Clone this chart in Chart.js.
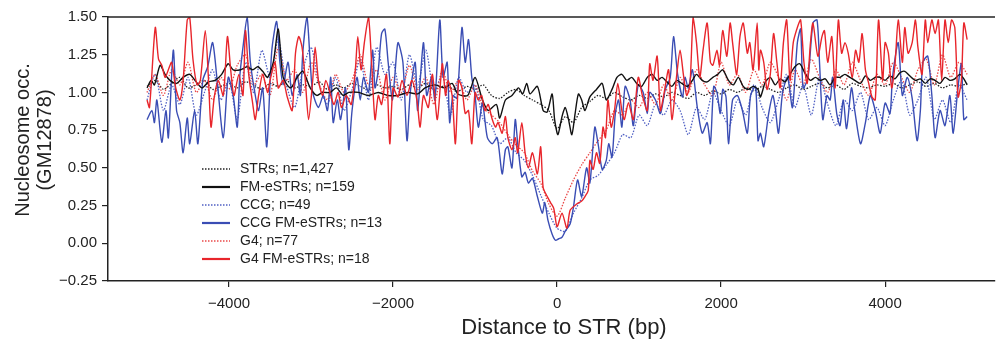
<!DOCTYPE html>
<html>
<head>
<meta charset="utf-8">
<title>Nucleosome occupancy around STRs</title>
<script src="https://cdn.jsdelivr.net/npm/chart.js"></script>
<style>
  html, body { margin: 0; padding: 0; background: #fff; }
</style>
</head>
<body>
<canvas id="chart" width="997" height="345"></canvas>
<script>
// distance to STR (bp), 100 bp grid used by the averaged (dotted) series
const gridX = Array.from({ length: 101 }, (_, i) => -5000 + 100 * i);

const xTicks = [-4000, -2000, 0, 2000, 4000];
const yTicks = [-0.25, 0, 0.25, 0.5, 0.75, 1.0, 1.25, 1.5];

const xTitle = 'Distance to STR (bp)';
const yTitle = ['Nucleosome occ.', '(GM12878)'];

// STRs; n=1,427 (black dotted)
const strsY = [
  1.04, 1.08, 1.02, 1.06, 1.10, 1.03, 1.05, 1.08, 1.02, 1.04,
  1.06, 1.03, 1.07, 1.05, 1.02, 1.06, 1.04, 1.08, 1.03, 1.05,
  1.04, 1.07, 1.02, 1.05, 1.03, 1.06, 1.04, 1.02, 1.05, 1.03,
  1.04, 1.02, 1.05, 1.03, 1.06, 1.02, 1.04, 1.03, 1.01, 1.04,
  1.02, 1.05, 0.98, 0.96, 1.00, 1.02, 0.98, 0.95, 0.92, 0.88,
  0.76, 0.84, 0.80, 0.90, 0.94, 0.98, 0.96, 1.00, 0.97, 0.95,
  0.98, 0.96, 0.99, 0.97, 1.00, 0.98, 0.96, 1.00, 0.98, 1.01,
  0.99, 1.02, 1.00, 1.03, 1.01, 1.04, 1.02, 1.00, 1.03, 1.05,
  1.02, 1.04, 1.06, 1.03, 1.05, 1.02, 1.06, 1.04, 1.03, 1.05,
  1.04, 1.06, 1.03, 1.05, 1.07, 1.04, 1.06, 1.03, 1.05, 1.04,
  1.06
];

// CCG; n=49 (blue dotted)
const ccgY = [
  0.95, 1.12, 0.88, 1.05, 0.92, 1.10, 0.85, 1.00, 1.15, 0.95,
  1.08, 0.82, 1.20, 1.00, 1.28, 1.10, 1.35, 1.05, 0.90, 1.15,
  1.30, 1.05, 0.92, 1.10, 0.88, 1.02, 1.22, 0.95, 1.30, 1.12,
  1.20, 0.95, 1.25, 1.05, 1.28, 1.00, 1.12, 0.85, 1.10, 1.00,
  1.05, 0.82, 0.78, 0.66, 0.70, 0.60, 0.55, 0.45, 0.32, 0.20,
  0.10, 0.08, 0.20, 0.30, 0.42, 0.45, 0.52, 0.60, 0.72, 0.70,
  0.85, 0.78, 0.92, 0.85, 0.95, 0.88, 0.72, 0.90, 0.82, 1.00,
  0.88, 0.78, 0.95, 0.85, 1.05, 0.90, 0.80, 0.95, 1.12, 0.90,
  1.05, 0.85, 1.10, 0.92, 0.78, 0.95, 0.88, 1.00, 0.82, 0.90,
  0.78, 0.95, 1.08, 0.85, 0.95, 1.10, 0.82, 0.95, 0.80, 1.05,
  0.95
];

// G4; n=77 (red dotted)
const g4Y = [
  1.00, 1.12, 0.98, 1.15, 1.05, 1.20, 1.00, 1.08, 0.95, 1.10,
  1.02, 1.18, 1.25, 1.05, 1.12, 0.98, 1.30, 1.08, 1.15, 1.00,
  1.20, 1.05, 0.95, 1.12, 1.00, 1.08, 1.25, 1.05, 1.15, 0.95,
  1.10, 1.00, 1.18, 1.02, 1.10, 0.92, 1.15, 1.00, 1.08, 0.95,
  1.05, 0.90, 0.85, 0.80, 0.72, 0.65, 0.60, 0.48, 0.40, 0.26,
  0.18, 0.30, 0.42, 0.52, 0.60, 0.68, 0.75, 0.88, 0.85, 0.95,
  0.90, 1.00, 0.92, 1.05, 0.95, 1.10, 1.00, 1.15, 1.05, 0.98,
  1.20, 1.05, 1.12, 1.00, 1.15, 1.05, 1.20, 1.10, 0.95, 1.15,
  1.05, 1.22, 1.10, 1.00, 1.15, 1.05, 1.20, 1.08, 0.98, 1.12,
  1.05, 1.20, 1.10, 1.00, 1.15, 1.22, 1.05, 1.25, 1.10, 1.20,
  1.12
];

// FM-eSTRs; n=159 (black solid)
const fmX = [
  -5000, -4950, -4910, -4840, -4780, -4720, -4640, -4560, -4480, -4400,
  -4330, -4250, -4170, -4090, -4010, -3950, -3860, -3780, -3710, -3650,
  -3590, -3530, -3460, -3400, -3340, -3250, -3170, -3100, -3010, -2930,
  -2860, -2770, -2690, -2610, -2540, -2420, -2300, -2180, -2060, -1940,
  -1820, -1700, -1610, -1490, -1370, -1280, -1210, -1090, -1000, -910,
  -840, -740, -700, -630, -550, -470, -420, -370, -330, -240,
  -170, -120, -60, -30, 10, 60, 100, 140, 180, 220,
  260, 300, 340, 400, 480, 550, 600, 670, 730, 790,
  850, 910, 970, 1030, 1100, 1160, 1220, 1280, 1340, 1400,
  1460, 1520, 1590, 1650, 1700, 1770, 1830, 1900, 1960, 2020,
  2090, 2150, 2210, 2270, 2330, 2390, 2450, 2480, 2540, 2600,
  2660, 2720, 2780, 2840, 2900, 2960, 3030, 3090, 3150, 3210,
  3270, 3330, 3390, 3450, 3510, 3570, 3630, 3700, 3760, 3820,
  3880, 3940, 4000, 4060, 4120, 4180, 4240, 4300, 4370, 4430,
  4490, 4550, 4610, 4670, 4730, 4790, 4850, 4910, 4960, 5000
];
const fmY = [
  1.03, 1.08, 1.05, 1.18, 1.12, 1.08, 1.06, 1.10, 1.12, 1.07,
  1.03, 1.07, 1.08, 1.12, 1.19, 1.15, 1.15, 1.17, 1.15, 1.17,
  1.14, 1.10, 1.20, 1.42, 1.10, 1.03, 1.10, 1.14, 1.03, 0.98,
  1.00, 1.00, 1.03, 0.98, 1.00, 1.00, 0.98, 1.00, 0.98, 0.98,
  1.00, 0.99, 1.03, 1.05, 1.03, 1.06, 0.99, 0.98, 1.10, 0.95,
  0.88, 0.92, 0.83, 0.95, 0.98, 1.03, 0.99, 1.06, 0.99, 1.04,
  0.88, 0.87, 0.99, 0.82, 0.72, 0.84, 0.90, 0.82, 0.72, 0.86,
  0.99, 0.95, 0.88, 0.97, 1.02, 1.06, 0.95, 1.02, 1.10, 1.12,
  1.08, 1.10, 1.06, 1.04, 1.10, 1.12, 1.08, 1.10, 1.07, 1.04,
  1.08, 1.06, 1.04, 1.08, 1.12, 1.08, 1.07, 1.10, 1.12, 1.15,
  1.08, 1.05, 1.10, 1.04, 1.02, 1.04, 1.02, 0.97, 1.07, 1.10,
  1.05, 1.09, 1.07, 1.12, 1.17, 1.19, 1.12, 1.08, 1.10, 1.08,
  1.09, 1.05, 1.10, 1.10, 1.12, 1.10, 1.08, 1.06, 1.11, 1.08,
  1.10, 1.10, 1.08, 1.11, 1.09, 1.13, 1.14, 1.11, 1.08, 1.09,
  1.06, 1.09, 1.08, 1.06, 1.10, 1.08, 1.09, 1.12, 1.09, 1.05
];

// CCG FM-eSTRs; n=13 (blue solid)
const ccgFmX = [
  -5000, -4940, -4910, -4880, -4820, -4770, -4740, -4680, -4640, -4600,
  -4560, -4510, -4480, -4420, -4380, -4320, -4260, -4200, -4140, -4070,
  -4010, -3950, -3900, -3870, -3830, -3780, -3740, -3680, -3640, -3590,
  -3540, -3480, -3420, -3380, -3340, -3280, -3230, -3170, -3130, -3100,
  -3050, -3010, -2980, -2910, -2850, -2800, -2760, -2730, -2680, -2640,
  -2580, -2540, -2500, -2440, -2400, -2360, -2300, -2250, -2220, -2180,
  -2140, -2100, -2060, -2010, -1980, -1940, -1880, -1830, -1790, -1730,
  -1700, -1630, -1590, -1530, -1490, -1430, -1390, -1340, -1310, -1270,
  -1220, -1160, -1120, -1080, -1040, -1000, -960, -910, -850, -790,
  -730, -670, -630, -600, -550, -510, -480, -430, -390, -350,
  -300, -240, -180, -150, -110, -60, -20, 20, 60, 100,
  160, 200, 250, 300, 360, 400, 460, 500, 550, 600,
  630, 670, 710, 750, 790, 830, 890, 930, 990, 1050,
  1100, 1130, 1200, 1260, 1320, 1380, 1420, 1470, 1530, 1560,
  1600, 1650, 1710, 1770, 1830, 1870, 1910, 1950, 1990, 2020,
  2060, 2090, 2140, 2200, 2260, 2320, 2360, 2420, 2450, 2480,
  2520, 2580, 2630, 2660, 2700, 2750, 2810, 2870, 2930, 2970,
  3000, 3060, 3120, 3170, 3200, 3240, 3290, 3330, 3360, 3410,
  3450, 3490, 3530, 3590, 3630, 3700, 3760, 3820, 3880, 3940,
  4000, 4060, 4090, 4160, 4210, 4270, 4330, 4390, 4430, 4460,
  4520, 4570, 4610, 4670, 4730, 4790, 4830, 4890, 4930, 4960,
  5000
];
const ccgFmY = [
  0.82, 0.88, 0.80, 0.95, 0.67, 0.88, 0.70, 1.28, 0.88, 0.80,
  0.60, 0.83, 0.66, 0.88, 0.66, 1.08, 1.17, 1.33, 1.05, 0.70,
  1.10, 0.98, 0.77, 1.10, 1.30, 1.50, 1.20, 0.98, 0.88, 1.03,
  0.64, 1.27, 1.47, 1.20, 1.05, 1.20, 0.98, 1.12, 0.98, 1.27,
  1.50, 1.20, 1.00, 0.90, 0.98, 0.88, 1.10, 0.80, 0.95, 0.82,
  1.03, 0.62, 0.88, 1.10, 0.95, 1.10, 1.00, 1.28, 1.03, 1.15,
  1.39, 1.42, 1.20, 0.95, 1.10, 1.33, 1.20, 0.68, 1.00, 1.20,
  0.88, 1.33, 0.98, 1.10, 0.95, 1.48, 1.10, 1.20, 0.80, 0.98,
  0.96, 1.43, 1.20, 1.35, 1.10, 0.98, 0.77, 0.93, 0.70, 0.66,
  0.70, 0.46, 0.62, 0.64, 0.50, 0.82, 0.66, 0.44, 0.47, 0.40,
  0.43, 0.31, 0.20, 0.27, 0.15, 0.06, 0.02, 0.03, 0.04, 0.08,
  0.13, 0.24, 0.42, 0.31, 0.50, 0.40, 0.77, 0.66, 0.49, 0.55,
  0.66, 0.57, 0.86, 0.95, 0.77, 1.04, 0.95, 0.78, 1.05, 1.00,
  0.86, 1.00, 0.95, 0.86, 1.02, 1.10, 1.37, 1.12, 0.97, 1.10,
  1.03, 1.15, 0.90, 0.73, 0.80, 0.66, 1.04, 1.00, 0.86, 1.02,
  0.97, 0.66, 0.95, 0.98, 0.88, 0.73, 0.98, 1.04, 0.68, 0.73,
  0.64, 0.86, 0.98, 0.90, 0.73, 1.00, 1.10, 0.90, 1.33, 1.42,
  1.03, 1.10, 1.46, 1.48, 1.20, 0.82, 0.98, 0.95, 1.10, 0.86,
  0.78, 0.95, 0.76, 1.03, 0.88, 0.66, 0.80, 0.98, 0.88, 0.73,
  0.93, 0.86, 1.10, 1.33, 0.98, 1.10, 0.96, 0.68, 0.88, 1.20,
  1.24, 0.98, 0.70, 0.88, 0.78, 0.98, 0.73, 1.04, 1.19, 0.82,
  0.84
];

// G4 FM-eSTRs; n=18 (red solid)
const g4FmX = [
  -5000, -4970, -4900, -4860, -4820, -4780, -4740, -4700, -4650, -4600,
  -4560, -4510, -4480, -4440, -4390, -4350, -4290, -4250, -4220, -4180,
  -4130, -4070, -4020, -3980, -3940, -3880, -3830, -3800, -3760, -3710,
  -3680, -3640, -3590, -3530, -3500, -3440, -3400, -3340, -3290, -3230,
  -3190, -3150, -3110, -3070, -3030, -2980, -2950, -2910, -2860, -2820,
  -2760, -2720, -2670, -2630, -2570, -2510, -2460, -2430, -2390, -2350,
  -2300, -2260, -2220, -2180, -2140, -2080, -2040, -2000, -1940, -1890,
  -1830, -1770, -1710, -1670, -1630, -1570, -1520, -1460, -1400, -1360,
  -1330, -1280, -1240, -1200, -1160, -1120, -1080, -1040, -1000, -960,
  -920, -880, -840, -790, -750, -720, -670, -630, -600, -550,
  -510, -480, -430, -390, -350, -300, -240, -200, -170, -120,
  -80, -40, 0, 60, 120, 160, 240, 300, 340, 380,
  400, 440, 480, 520, 560, 590, 620, 660, 700, 740,
  790, 820, 870, 930, 990, 1040, 1100, 1130, 1170, 1220,
  1260, 1300, 1360, 1400, 1460, 1500, 1540, 1580, 1620, 1660,
  1700, 1740, 1780, 1830, 1870, 1900, 1950, 1980, 2020, 2070,
  2110, 2140, 2190, 2230, 2270, 2320, 2350, 2390, 2440, 2460,
  2480, 2520, 2560, 2600, 2640, 2680, 2720, 2760, 2800, 2840,
  2880, 2930, 2970, 3010, 3050, 3090, 3120, 3180, 3230, 3260,
  3300, 3350, 3390, 3430, 3470, 3510, 3550, 3600, 3640, 3680,
  3720, 3760, 3800, 3840, 3880, 3920, 3970, 4000, 4040, 4080,
  4120, 4160, 4210, 4240, 4280, 4330, 4370, 4400, 4450, 4490,
  4520, 4570, 4610, 4650, 4690, 4730, 4770, 4810, 4850, 4890,
  4930, 4960, 5000
];
const g4FmY = [
  0.95, 0.90, 1.43, 1.22, 1.18, 1.10, 1.15, 1.20, 1.03, 0.95,
  1.08, 1.48, 1.50, 1.22, 1.05, 1.08, 1.41, 1.08, 0.77, 0.97,
  1.08, 0.98, 1.37, 1.15, 0.98, 1.12, 0.98, 1.41, 1.12, 0.92,
  0.82, 0.98, 1.12, 1.00, 1.08, 1.20, 1.03, 1.08, 0.97, 0.88,
  1.26, 1.37, 1.30, 1.08, 0.82, 1.08, 1.30, 1.08, 0.98, 1.08,
  0.98, 0.92, 1.00, 0.90, 0.98, 0.92, 1.15, 1.37, 1.15, 1.33,
  1.50, 1.18, 0.82, 0.98, 0.92, 1.12, 0.66, 1.03, 0.97, 1.08,
  0.98, 1.08, 0.95, 0.77, 0.98, 0.90, 1.12, 0.82, 1.19, 0.98,
  1.08, 0.98, 0.66, 1.08, 1.03, 0.86, 0.88, 0.66, 1.00, 0.95,
  0.98, 0.88, 0.92, 0.82, 0.77, 0.80, 0.73, 0.84, 0.70, 0.62,
  0.70, 0.60, 0.80, 0.60, 0.50, 0.60, 0.46, 0.64, 0.37, 0.31,
  0.27, 0.23, 0.11, 0.20, 0.10, 0.22, 0.26, 0.28, 0.31, 0.35,
  0.55, 0.49, 0.60, 0.53, 0.77, 0.70, 0.95, 0.77, 0.88, 1.06,
  0.88, 0.82, 0.93, 0.82, 1.10, 0.98, 0.88, 1.19, 1.08, 1.24,
  0.88, 0.98, 1.15, 0.82, 1.12, 1.28, 1.12, 0.98, 1.05, 1.50,
  1.33, 1.10, 1.28, 1.46, 1.20, 1.18, 1.28, 1.18, 1.41, 1.24,
  1.46, 1.33, 1.12, 1.37, 1.46, 1.26, 1.33, 1.15, 1.46, 1.15,
  1.28, 1.20, 1.02, 1.12, 1.39, 1.20, 1.03, 1.33, 1.48, 1.08,
  1.33, 1.43, 1.48, 1.20, 1.06, 1.33, 1.46, 1.24, 1.37, 1.41,
  1.20, 1.37, 1.03, 1.48, 1.26, 1.33, 1.26, 1.10, 1.28, 1.20,
  1.39, 1.15, 1.06, 0.97, 0.95, 1.48, 1.08, 1.33, 1.26, 1.03,
  1.18, 1.48, 1.20, 1.43, 1.26, 1.33, 1.48, 1.30, 1.12, 1.48,
  1.33, 1.48, 1.39, 1.48, 1.08, 1.48, 1.33, 1.48, 1.43, 0.97,
  1.08, 1.46, 1.35
];

const FONT = '"Liberation Sans", Arial, Helvetica, sans-serif';
const INK = '#222222';
const BLUE = '#3a4db4';
const BLUE_DOT = '#5060c4';
const RED = '#e8252b';
const RED_DOT = '#ea4a4a';

function pairs(xs, ys) {
  return xs.map((x, i) => ({ x: x, y: ys[i] }));
}

function fmtMinus(v, digits) {
  const s = Math.abs(v).toFixed(digits);
  return v < 0 ? '\u2212' + s : s;
}

const series = [
  { label: 'STRs; n=1,427', data: pairs(gridX, strsY), borderColor: INK, borderDash: [1.5, 1.5], borderWidth: 1.3, order: 6 },
  { label: 'FM-eSTRs; n=159', data: pairs(fmX, fmY), borderColor: '#111111', borderWidth: 1.4, order: 2 },
  { label: 'CCG; n=49', data: pairs(gridX, ccgY), borderColor: BLUE_DOT, borderDash: [1.5, 1.5], borderWidth: 1.3, order: 5 },
  { label: 'CCG FM-eSTRs; n=13', data: pairs(ccgFmX, ccgFmY), borderColor: BLUE, borderWidth: 1.4, order: 3 },
  { label: 'G4; n=77', data: pairs(gridX, g4Y), borderColor: RED_DOT, borderDash: [1.5, 1.5], borderWidth: 1.3, order: 4 },
  { label: 'G4 FM-eSTRs; n=18', data: pairs(g4FmX, g4FmY), borderColor: RED, borderWidth: 1.4, order: 1 }
];

// legend drawn inside the plot, lower left
const insideLegend = {
  id: 'insideLegend',
  afterDatasetsDraw(chart) {
    const ctx = chart.ctx;
    const x0 = 202, y0 = 169, rowH = 18;
    ctx.save();
    ctx.font = '14px ' + FONT;
    ctx.textBaseline = 'middle';
    chart.data.datasets.forEach((ds, i) => {
      const y = y0 + i * rowH;
      ctx.strokeStyle = ds.borderColor;
      ctx.lineWidth = ds.borderDash ? 1.6 : 2.2;
      ctx.setLineDash(ds.borderDash ? [1.5, 1.5] : []);
      ctx.beginPath();
      ctx.moveTo(x0, y);
      ctx.lineTo(x0 + 28, y);
      ctx.stroke();
      ctx.setLineDash([]);
      ctx.fillStyle = INK;
      ctx.fillText(ds.label, x0 + 38, y);
    });
    ctx.restore();
  }
};

// top spine and axis titles
const frameAndTitles = {
  id: 'frameAndTitles',
  afterDraw(chart) {
    const { ctx, chartArea } = chart;
    ctx.save();
    ctx.strokeStyle = INK;
    ctx.lineWidth = 1.5;
    ctx.beginPath();
    ctx.moveTo(chartArea.left, chartArea.top);
    ctx.lineTo(chartArea.right, chartArea.top);
    ctx.stroke();

    ctx.fillStyle = INK;
    ctx.textAlign = 'center';
    ctx.textBaseline = 'middle';
    ctx.font = '22px ' + FONT;
    ctx.fillText(xTitle, 564, 328);

    ctx.font = '20px ' + FONT;
    ctx.translate(0, 140);
    ctx.rotate(-Math.PI / 2);
    ctx.fillText(yTitle[0], 0, 23);
    ctx.fillText(yTitle[1], 0, 45);
    ctx.restore();
  }
};

new Chart(document.getElementById('chart').getContext('2d'), {
  type: 'line',
  data: {
    datasets: series.map(s => Object.assign({
      fill: false,
      tension: 0.25,
      pointRadius: 0,
      pointHoverRadius: 0,
      spanGaps: true
    }, s))
  },
  options: {
    responsive: false,
    animation: false,
    layout: { padding: { top: 17, right: 2, left: 0, bottom: 0 } },
    plugins: {
      legend: { display: false },
      tooltip: { enabled: false }
    },
    scales: {
      x: {
        type: 'linear',
        min: -5476,
        max: 5340,
        afterBuildTicks: (s) => { s.ticks = xTicks.map(v => ({ value: v })); },
        afterFit: (s) => { s.height = 64; },
        grid: { drawOnChartArea: false, drawTicks: true, tickLength: 6, color: INK, lineWidth: 1.2 },
        border: { display: true, color: INK, width: 1.5 },
        ticks: {
          color: INK,
          font: { family: FONT, size: 15 },
          padding: 8,
          maxRotation: 0,
          callback: (v) => fmtMinus(v, 0)
        }
      },
      y: {
        type: 'linear',
        min: -0.25,
        max: 1.5,
        afterBuildTicks: (s) => { s.ticks = yTicks.map(v => ({ value: v })); },
        afterFit: (s) => { s.width = 108; },
        grid: { drawOnChartArea: false, drawTicks: true, tickLength: 6, color: INK, lineWidth: 1.2 },
        border: { display: true, color: INK, width: 1.5 },
        ticks: {
          color: INK,
          font: { family: FONT, size: 15 },
          padding: 5,
          callback: (v) => fmtMinus(v, 2)
        }
      }
    }
  },
  plugins: [insideLegend, frameAndTitles]
});
</script>
</body>
</html>
